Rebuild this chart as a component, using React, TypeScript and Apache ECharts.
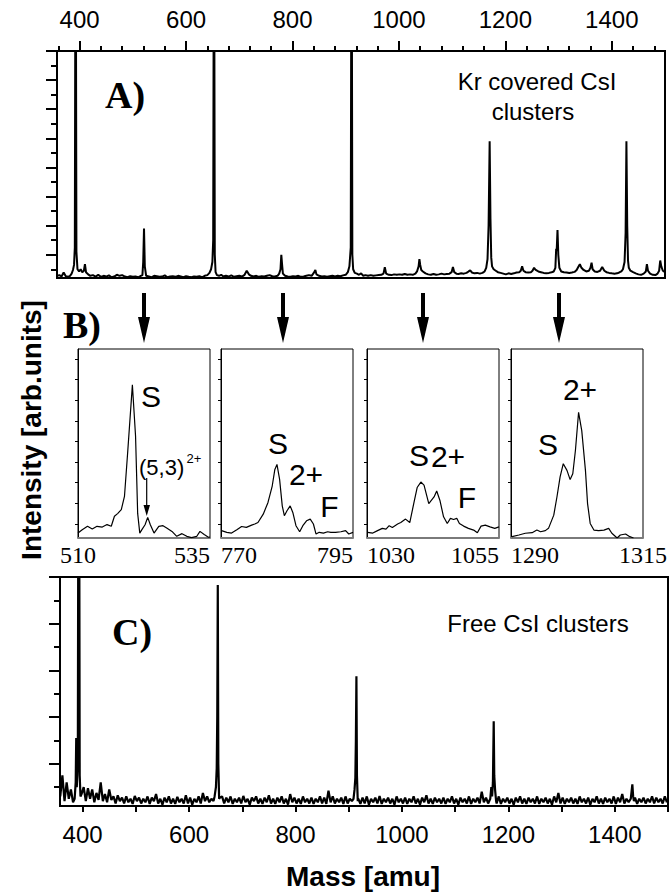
import React, { useEffect, useRef } from "react";
import * as echarts from "echarts";

// ---------------- data ----------------
const topTickLabels = [400, 600, 800, 1000, 1200, 1400];
const topMinorTicks = [360, 400, 440, 480, 520, 560, 600, 640, 680, 720, 760, 800, 840, 880, 920, 960, 1000, 1040, 1080, 1120, 1160, 1200, 1240, 1280, 1320, 1360, 1400, 1440, 1480];
const aYMajorTicks = [2, 4, 6, 8, 10, 12, 14, 16];
const aYMinorTicks = [1, 3, 5, 7, 9, 11, 13, 15];
const bottomTicks = [400, 500, 600, 700, 800, 900, 1000, 1100, 1200, 1300, 1400, 1500];
const bottomTickLabels = [400, 600, 800, 1000, 1200, 1400];
const cYMajorTicks = [2, 4, 6, 8, 10];
const cYMinorTicks = [1, 3, 5, 7, 9];
const zoomRanges = [[510, 535], [770, 795], [1030, 1055], [1290, 1315]];
const zoomYTicks = [7.5, 18.4, 29.3, 40.2, 51.1, 62, 72.9, 83.8, 94.7];

// A) Kr covered CsI clusters: [mass, intensity]
const krSpectrum = [
  [358, 0.55], [362, 0.6], [366, 0.5], [370, 0.78], [374, 0.52], [378, 0.48], [382, 0.55], [385, 0.7], [387.5, 0.95], [389.5, 1.3], [391, 2.5], [392.5, 30], [394, 2.2], [396, 1.0], [399, 0.85], [402, 1.0], [405, 0.8], [408, 0.9], [410, 1.35], [412, 0.8], [416, 0.65], [420, 0.55],
  [425, 0.6], [430, 0.5], [435, 0.62], [440, 0.48], [445, 0.55], [450, 0.5], [455, 0.58], [460, 0.45], [465, 0.5], [470, 0.62], [475, 0.55], [480, 0.6], [485, 0.5], [490, 0.45], [495, 0.52], [500, 0.48], [505, 0.5], [510, 0.45], [515, 0.55], [518, 0.6],
  [519.5, 1.5], [521, 3.8], [522.5, 1.2], [525, 0.55], [530, 0.5], [535, 0.45], [540, 0.55], [545, 0.52], [550, 0.48], [555, 0.5], [560, 0.58], [565, 0.45], [570, 0.5], [575, 0.52], [580, 0.48], [585, 0.55], [590, 0.5], [595, 0.45], [600, 0.52],
  [605, 0.48], [610, 0.45], [615, 0.5], [620, 0.48], [625, 0.52], [630, 0.45], [635, 0.55], [640, 0.6], [644, 0.75], [647, 1.0], [649.5, 1.5], [651, 3], [652.5, 30], [654, 2], [655.5, 0.8], [658, 0.6], [662, 0.55], [666, 0.62], [670, 0.5],
  [675, 0.55], [680, 0.5], [685, 0.58], [690, 0.48], [695, 0.52], [700, 0.55], [705, 0.5], [710, 0.62], [714, 0.9], [718, 0.65], [722, 0.55], [727, 0.5], [732, 0.55], [737, 0.48], [742, 0.52], [747, 0.5], [752, 0.55], [757, 0.6], [762, 0.52],
  [767, 0.5], [772, 0.55], [775, 0.7], [777.5, 1.0], [779, 2.0], [780.5, 1.3], [782, 0.7], [786, 0.55], [791, 0.5], [796, 0.48], [801, 0.52], [806, 0.5], [811, 0.55], [816, 0.48], [821, 0.5], [826, 0.55], [831, 0.6], [836, 0.55], [840, 0.75],
  [843, 0.95], [845, 0.65], [850, 0.55], [855, 0.5], [860, 0.52], [865, 0.48], [870, 0.52], [875, 0.55], [880, 0.5], [885, 0.55], [890, 0.52], [895, 0.58], [900, 0.62], [904, 0.8], [907, 1.2], [909.5, 2.5], [911, 30], [912.5, 2], [914, 1.0],
  [917, 0.75], [921, 0.7], [925, 0.62], [929, 0.72], [933, 0.55], [937, 0.6], [942, 0.55], [947, 0.6], [952, 0.55], [957, 0.58], [962, 0.6], [967, 0.62], [971, 0.7], [973.5, 1.15], [976, 0.7], [981, 0.62], [986, 0.6], [991, 0.65], [996, 0.62],
  [1001, 0.65], [1006, 0.62], [1011, 0.68], [1016, 0.62], [1021, 0.65], [1026, 0.62], [1031, 0.7], [1034, 0.85], [1037, 1.2], [1038.5, 1.7], [1040, 1.3], [1042, 0.95], [1045, 0.85], [1050, 0.72], [1055, 0.65], [1060, 0.62], [1065, 0.68],
  [1070, 0.62], [1075, 0.65], [1080, 0.7], [1085, 0.65], [1090, 0.68], [1095, 0.7], [1099, 0.8], [1101.5, 1.15], [1104, 0.8], [1108, 0.7], [1112, 0.68], [1117, 0.72], [1122, 0.7], [1127, 0.75], [1131, 0.85], [1134, 0.92], [1137, 0.78],
  [1142, 0.72], [1147, 0.75], [1152, 0.7], [1157, 0.75], [1161, 0.85], [1164, 1.1], [1166.5, 1.7], [1168.5, 4], [1170.5, 9.8], [1172, 4.5], [1173.5, 1.8], [1175, 1.2], [1178, 1.0], [1182, 0.9], [1186, 0.8], [1191, 0.75], [1196, 0.7],
  [1201, 0.65], [1206, 0.72], [1211, 0.68], [1216, 0.72], [1221, 0.78], [1226, 0.8], [1229, 0.9], [1231.5, 1.2], [1234, 0.9], [1238, 0.8], [1243, 0.78], [1248, 0.8], [1251, 0.9], [1254, 1.1], [1257, 0.95], [1262, 0.85], [1267, 0.8],
  [1272, 0.75], [1277, 0.72], [1282, 0.75], [1287, 0.8], [1291, 0.85], [1294, 1.1], [1295.5, 2.4], [1296.5, 2.3], [1298, 3.7], [1299.5, 2.0], [1301.5, 1.1], [1305, 0.85], [1310, 0.8], [1315, 0.78], [1320, 0.75], [1325, 0.78], [1330, 0.82],
  [1334, 0.95], [1337, 1.15], [1340, 1.35], [1343, 1.1], [1347, 0.95], [1352, 0.85], [1357, 0.9], [1360, 1.1], [1362, 1.45], [1364, 1.0], [1368, 0.85], [1373, 0.82], [1378, 0.9], [1382, 1.15], [1386, 0.9], [1390, 0.8], [1395, 0.75],
  [1400, 0.72], [1405, 0.7], [1410, 0.72], [1414, 0.78], [1418, 0.85], [1421, 1.0], [1424, 1.5], [1426, 3.5], [1427.5, 9.8], [1429, 4], [1430.5, 1.6], [1432, 1.1], [1435, 0.9], [1440, 0.8], [1445, 0.72], [1450, 0.65], [1455, 0.62],
  [1460, 0.7], [1464, 0.85], [1466, 1.35], [1468, 0.9], [1472, 0.7], [1477, 0.62], [1482, 0.6], [1486, 0.7], [1489, 0.9], [1491, 1.6], [1493, 1.2], [1496, 0.9], [1500, 0.8],
];

// C) Free CsI clusters: noise baseline sampled every 4 amu from 358, plus peaks
const freeBaselineStart = 358;
const freeBaselineStep = 4;
const freeBaseline = [
  0.6, 1.5, 0.4, 1.2, 0.5, 0.9, 0.35, 0.8, 0.9, 0.9, 0.7, 1.0, 0.4, 0.95, 0.5, 0.9, 0.35, 0.75, 0.45, 1.2,
  0.4, 0.7, 0.35, 0.9, 0.45, 0.6, 0.3, 0.65, 0.4, 0.55, 0.3, 0.6, 0.35, 0.5, 0.28, 0.62, 0.4, 0.55, 0.3, 0.5,
  0.35, 0.6, 0.28, 0.55, 0.4, 0.7, 0.3, 0.5, 0.25, 0.55, 0.35, 0.6, 0.3, 0.5, 0.28, 0.58, 0.35, 0.5, 0.3, 0.65,
  0.3, 0.55, 0.25, 0.5, 0.35, 0.6, 0.3, 0.75, 0.4, 0.6, 0.35, 0.5, 0.4, 0.6, 0.3, 0.55, 0.6, 0.3, 0.55, 0.35,
  0.6, 0.28, 0.5, 0.35, 0.55, 0.3, 0.62, 0.35, 0.5, 0.25, 0.55, 0.4, 0.6, 0.3, 0.5, 0.28, 0.55, 0.35, 0.65, 0.3,
  0.5, 0.28, 0.55, 0.35, 0.6, 0.3, 0.5, 0.25, 0.7, 0.35, 0.55, 0.3, 0.5, 0.28, 0.6, 0.35, 0.5, 0.3, 0.55, 0.28,
  0.5, 0.35, 0.6, 0.3, 0.55, 0.28, 0.85, 0.35, 0.6, 0.3, 0.5, 0.35, 0.55, 0.28, 0.6, 0.3, 0.5, 0.4, 0.6, 0.35,
  0.5, 0.28, 0.55, 0.3, 0.6, 0.25, 0.5, 0.35, 0.55, 0.3, 0.62, 0.28, 0.5, 0.35, 0.55, 0.3, 0.5, 0.25, 0.6, 0.35,
  0.5, 0.3, 0.55, 0.28, 0.5, 0.35, 0.6, 0.3, 0.5, 0.25, 0.55, 0.35, 0.65, 0.3, 0.5, 0.28, 0.55, 0.35, 0.5, 0.3,
  0.55, 0.28, 0.5, 0.35, 0.6, 0.3, 0.5, 0.25, 0.55, 0.35, 0.5, 0.3, 0.6, 0.28, 0.5, 0.35, 0.55, 0.3, 0.8, 0.35,
  0.55, 0.3, 0.5, 0.3, 0.5, 0.3, 0.6, 0.28, 0.5, 0.35, 0.55, 0.3, 0.5, 0.25, 0.55, 0.35, 0.6, 0.3, 0.5, 0.28,
  0.55, 0.35, 0.5, 0.3, 0.6, 0.28, 0.5, 0.35, 0.55, 0.3, 0.5, 0.25, 0.6, 0.35, 0.75, 0.3, 0.55, 0.28, 0.5, 0.35,
  0.55, 0.3, 0.5, 0.28, 0.6, 0.35, 0.5, 0.3, 0.55, 0.25, 0.5, 0.35, 0.6, 0.3, 0.5, 0.28, 0.55, 0.35, 0.5, 0.3,
  0.6, 0.28, 0.55, 0.35, 0.7, 0.3, 0.5, 0.35, 0.65, 0.3, 0.55, 0.28, 0.5, 0.35, 0.55, 0.3, 0.5, 0.35, 0.6, 0.3,
  0.55, 0.35, 0.5, 0.3, 0.6, 0.35,
];
const freePeak393 = [[385, 0.5], [387, 1.2], [388, 3.1], [389, 1.0], [391, 2], [392.8, 25], [394.5, 1.5], [396, 0.6]];
const freePeak654 = [[648, 0.6], [650.5, 1.0], [652, 1.8], [653, 4], [654, 9.66], [655, 2], [656.5, 0.5]];
const freePeak914 = [[909, 0.5], [911, 0.9], [912.5, 1.4], [913.5, 3], [914.5, 5.75], [915.5, 1.5], [917, 0.4]];
const freePeak1173 = [[1166, 0.5], [1168, 1.0], [1169.5, 0.6], [1171, 1.2], [1172.5, 3.82], [1173.5, 1.5], [1175, 0.9], [1177, 0.4]];
const freePeak1433 = [[1430, 0.5], [1431.5, 0.8], [1433, 1.12], [1434.5, 0.6], [1436, 0.4]];

// B) zoomed windows: [mass, % of panel height]
const zoom510 = [
  [510, 2.6], [510.8, 4.4], [511.8, 6.2], [512.7, 4.8], [513.6, 6.2], [514.6, 5.8], [515.5, 7.1], [516.3, 6.2], [516.9, 11.5], [517.5, 12.9], [518.2, 15], [518.8, 22], [519.4, 45], [520.3, 81], [520.9, 54], [521.3, 13], [521.7, 2.6],
  [522.1, 4.4], [522.7, 7], [523.2, 10.9], [523.7, 7], [524.4, 2.6], [525.3, 6.2], [526.1, 6.5], [526.8, 5.3], [527.8, 3.5], [528.7, 0.9], [529.7, 2.3], [530.6, 0.9], [531.5, 0.2], [532.5, 0.9], [533.1, 3.5], [533.9, 1.8], [534.7, 0.4], [535, 0.5],
];
const zoom770 = [
  [770.1, 3.9], [771.1, 3], [772, 2.6], [773, 4.4], [773.9, 6.1], [774.8, 5.6], [775.8, 6.8], [776.4, 7.4], [777, 8.2], [778, 12.6], [778.9, 18.8], [779.7, 27.5], [780.2, 36.3], [780.6, 38.9], [781.1, 31], [781.6, 17], [782, 11.8],
  [782.5, 14.4], [783.1, 17], [783.6, 13.5], [784.2, 6.5], [784.9, 3.3], [785.5, 6.5], [786.2, 9.1], [786.9, 10], [787.5, 7.4], [788, 2.1], [788.6, 3], [789.4, 2.6], [790.2, 3.3], [790.8, 3], [791.7, 3], [792.7, 3.3], [793.6, 3.9], [794.2, 2.1], [795, 3],
];
const zoom1030 = [
  [1030.1, 3], [1031.1, 2.6], [1032, 3.9], [1032.9, 5.1], [1033.6, 4.7], [1034.2, 6.5], [1034.8, 5.6], [1035.8, 7.4], [1036.4, 8.2], [1037.3, 10], [1038.1, 8.2], [1038.9, 18.8], [1039.5, 26.7], [1040.2, 29.6], [1040.8, 28], [1041.7, 18.2],
  [1042.7, 21.7], [1043.2, 24.9], [1043.8, 20], [1044.5, 11.2], [1045.2, 7.7], [1045.8, 10.4], [1046.4, 9.8], [1047, 10.4], [1047.5, 7.7], [1048.3, 6.3], [1049.2, 5.1], [1050.2, 4.2], [1050.9, 2.8], [1051.6, 6.3], [1052.4, 6.8], [1053.3, 5.9], [1054.2, 5.1], [1055, 5.9],
];
const zoom1290 = [
  [1290.2, 0.7], [1291.5, 1.6], [1292.7, 2.5], [1294, 2.8], [1294.9, 4.2], [1295.6, 3.3], [1296.5, 3.9], [1297.1, 5.1], [1298.1, 12.1], [1298.7, 21.7], [1299.3, 32.3], [1299.9, 39.3], [1300.6, 35.8], [1301.2, 30.9], [1301.7, 34],
  [1302.2, 46.3], [1302.8, 66.5], [1303.4, 56.8], [1304.1, 35.8], [1304.5, 18.2], [1305, 7.7], [1305.7, 4.2], [1306.6, 3.9], [1307.6, 4.2], [1308.5, 5.1], [1309.1, 2.5], [1310.1, 0], [1310.7, 1.6], [1311.7, 2.1], [1312.5, 0.7], [1313.2, 0],
];
const zoomSpectra = [zoom510, zoom770, zoom1030, zoom1290];

// ---------------- layout ----------------
const SANS = '"Liberation Sans", Arial, Helvetica, sans-serif';
const SERIF = '"Liberation Serif", "Times New Roman", serif';
const gridA = { left: 57, top: 51, width: 608, height: 227 };
const gridC = { left: 60, top: 577, width: 608, height: 229 };
const boxLefts = [78, 221, 367, 511];
const boxTop = 349;
const boxW = 132;
const boxH = 189;
const arrowXs = [144, 283, 423, 559];

const plain = (v: number) => String(v);

function buildFreeSpectrum() {
  const peaks = [freePeak393, freePeak654, freePeak914, freePeak1173, freePeak1433];
  const base = freeBaseline.map((v, i) => [freeBaselineStart + i * freeBaselineStep, v]);
  const kept = base.filter(([m]) => !peaks.some((p) => m >= p[0][0] && m <= p[p.length - 1][0]));
  const all = kept.concat(...peaks);
  all.sort((a, b) => a[0] - b[0]);
  return all;
}

function buildOption() {
  const black = "#000";
  const grids: any[] = [
    { ...gridA, show: true, borderColor: black, borderWidth: 2 },
    { ...gridC, show: true, borderColor: black, borderWidth: 2 },
  ];
  const xAxes: any[] = [
    {
      gridIndex: 0, type: "value", position: "top", min: 357.5, max: 1500,
      axisLine: { show: true, lineStyle: { color: black, width: 2 } },
      axisTick: { show: true, customValues: topTickLabels, length: 10, lineStyle: { color: black, width: 2 } },
      axisLabel: { show: true, customValues: topTickLabels, formatter: plain, color: black, fontSize: 24, fontFamily: SANS, margin: 20 },
      splitLine: { show: false },
    },
    {
      gridIndex: 0, type: "value", position: "top", min: 357.5, max: 1500,
      axisLine: { show: false },
      axisTick: { show: true, customValues: topMinorTicks, length: 5, lineStyle: { color: black, width: 2 } },
      axisLabel: { show: false },
      splitLine: { show: false },
    },
    {
      gridIndex: 1, type: "value", position: "bottom", min: 357.5, max: 1500,
      axisLine: { show: true, lineStyle: { color: black, width: 2 } },
      axisTick: { show: true, customValues: bottomTicks, length: 6, lineStyle: { color: black, width: 2 } },
      axisLabel: { show: true, customValues: bottomTickLabels, formatter: plain, color: black, fontSize: 24, fontFamily: SANS, margin: 16 },
      splitLine: { show: false },
    },
  ];
  const yAxes: any[] = [
    {
      gridIndex: 0, type: "value", min: 0.4, max: 16, position: "left",
      axisLine: { show: true, lineStyle: { color: black, width: 2 } },
      axisTick: { show: true, customValues: aYMajorTicks, length: 11, lineStyle: { color: black, width: 2 } },
      axisLabel: { show: false }, splitLine: { show: false },
    },
    {
      gridIndex: 0, type: "value", min: 0.4, max: 16, position: "left",
      axisLine: { show: false },
      axisTick: { show: true, customValues: aYMinorTicks, length: 6, lineStyle: { color: black, width: 2 } },
      axisLabel: { show: false }, splitLine: { show: false },
    },
    {
      gridIndex: 1, type: "value", min: 0.19, max: 10, position: "left",
      axisLine: { show: true, lineStyle: { color: black, width: 2 } },
      axisTick: { show: true, customValues: cYMajorTicks, length: 11, lineStyle: { color: black, width: 2 } },
      axisLabel: { show: false }, splitLine: { show: false },
    },
    {
      gridIndex: 1, type: "value", min: 0.19, max: 10, position: "left",
      axisLine: { show: false },
      axisTick: { show: true, customValues: cYMinorTicks, length: 6, lineStyle: { color: black, width: 2 } },
      axisLabel: { show: false }, splitLine: { show: false },
    },
  ];
  const series: any[] = [
    {
      type: "line", xAxisIndex: 0, yAxisIndex: 0, data: krSpectrum, showSymbol: false, symbol: "none",
      lineStyle: { color: black, width: 2 }, clip: true, z: 3,
    },
    {
      type: "line", xAxisIndex: 2, yAxisIndex: 2, data: buildFreeSpectrum(), showSymbol: false, symbol: "none",
      lineStyle: { color: black, width: 2.2 }, clip: true, z: 3,
    },
  ];

  const minAlign = ["center", "left", "left", "left"];
  const maxAlign = ["right", "right", "right", "center"];
  zoomRanges.forEach((r, i) => {
    const gi = grids.length;
    grids.push({ left: boxLefts[i], top: boxTop, width: boxW, height: boxH, show: true, borderColor: black, borderWidth: 1 });
    const xi = xAxes.length;
    xAxes.push({
      gridIndex: gi, type: "value", position: "bottom", min: r[0], max: r[1],
      axisLine: { show: true, lineStyle: { color: "#7a7a7a", width: 2 } },
      axisTick: { show: false },
      axisLabel: {
        show: true, customValues: [r[0], r[1]], formatter: plain, color: black, fontSize: 24, fontFamily: SERIF, margin: 5,
        alignMinLabel: minAlign[i], alignMaxLabel: maxAlign[i],
      },
      splitLine: { show: false },
    });
    const yi = yAxes.length;
    yAxes.push({
      gridIndex: gi, type: "value", min: 0, max: 100, position: "left",
      axisLine: { show: true, lineStyle: { color: black, width: 1 } },
      axisTick: { show: true, customValues: zoomYTicks, length: 3, lineStyle: { color: black, width: 1 } },
      axisLabel: { show: false }, splitLine: { show: false },
    });
    series.push({
      type: "line", xAxisIndex: xi, yAxisIndex: yi, data: zoomSpectra[i], showSymbol: false, symbol: "none",
      lineStyle: { color: black, width: 1.2 }, clip: true, z: 3,
    });
  });

  const txt = (text: string, x: number, y: number, font: string, extra: any = {}, align = "center") => ({
    type: "text", x, y, z: 10, ...extra,
    style: { text, fill: black, font, textAlign: align, textVerticalAlign: "middle" },
  });

  const graphic: any[] = [
    txt("A)", 125, 95, `bold 38px ${SERIF}`),
    txt("Kr covered CsI", 537, 81, `24px ${SANS}`),
    txt("clusters", 533, 111, `24px ${SANS}`),
    txt("B)", 82, 325, `bold 38px ${SERIF}`),
    txt("C)", 132, 632, `bold 38px ${SERIF}`),
    txt("Free CsI clusters", 538, 623, `24px ${SANS}`),
    txt("Intensity [arb.units]", 31, 430, `bold 28px ${SANS}`, { rotation: Math.PI / 2 }),
    txt("Mass [amu]", 363, 876, `bold 28px ${SANS}`),
    txt("S", 151, 396, `30px ${SANS}`),
    txt("(5,3)", 139, 467, `22px ${SANS}`, {}, "left"),
    txt("2+", 186.5, 458, `13px ${SANS}`, {}, "left"),
    txt("S", 278, 443, `30px ${SANS}`),
    txt("2+", 306, 474, `30px ${SANS}`),
    txt("F", 329.5, 506, `30px ${SANS}`),
    txt("S", 419, 455, `30px ${SANS}`),
    txt("2+", 448, 456, `30px ${SANS}`),
    txt("F", 467, 497, `30px ${SANS}`),
    txt("S", 548, 444, `30px ${SANS}`),
    txt("2+", 580, 389, `30px ${SANS}`),
    // small arrow for (5,3)2+
    { type: "line", z: 10, shape: { x1: 146.7, y1: 478, x2: 146.7, y2: 509 }, style: { stroke: black, lineWidth: 1.2 } },
    { type: "polygon", z: 10, shape: { points: [[143.5, 505], [150, 505], [146.7, 516]] }, style: { fill: black } },
  ];
  arrowXs.forEach((x) => {
    graphic.push({ type: "line", z: 10, shape: { x1: x, y1: 293, x2: x, y2: 320 }, style: { stroke: black, lineWidth: 4 } });
    graphic.push({ type: "polygon", z: 10, shape: { points: [[x - 6, 317], [x + 6, 317], [x, 343]] }, style: { fill: black } });
  });

  return {
    animation: false,
    backgroundColor: "#fff",
    grid: grids,
    xAxis: xAxes,
    yAxis: yAxes,
    series,
    graphic,
  };
}

export default function App() {
  const ref = useRef<HTMLDivElement>(null);
  useEffect(() => {
    if (!ref.current) return;
    const chart = echarts.init(ref.current, undefined, { renderer: "svg" });
    chart.setOption(buildOption() as any);
    return () => chart.dispose();
  }, []);
  return <div ref={ref} style={{ position: "fixed", left: 0, top: 0, width: 670, height: 896, background: "#fff" }} />;
}
